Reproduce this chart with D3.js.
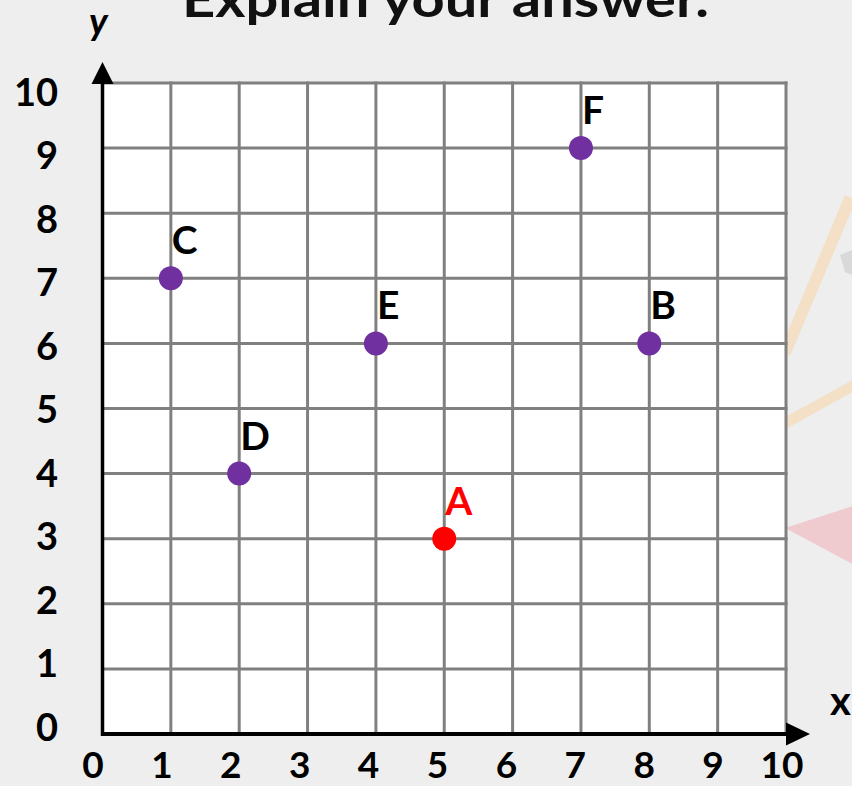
<!DOCTYPE html>
<html><head><meta charset="utf-8">
<script src="https://cdn.jsdelivr.net/npm/d3@7/dist/d3.min.js"></script>
<style>
html,body{margin:0;padding:0;background:#eeeeee;overflow:hidden;}
svg{display:block;}
text{font-family:Lato,"DejaVu Sans",sans-serif;font-weight:700;}
</style></head>
<body>
<script>
// ---- data ----
const title = "Explain your answer.";
const xTickValues = [0,1,2,3,4,5,6,7,8,9,10];
const yTickValues = [0,1,2,3,4,5,6,7,8,9,10];
const pointNames = ["A","B","C","D","E","F"];
const pointX = [5,8,1,2,4,7];
const pointY = [3,6,7,4,6,9];
const highlightName = "A";

// ---- layout ----
const W = 852, H = 786;
const svg = d3.select("body").append("svg").attr("width", W).attr("height", H);

// background decoration
const deco = svg.append("g");
deco.append("rect").attr("width", W).attr("height", H).attr("fill", "#eeeeee");
deco.append("path").attr("d", "M780,350 L845,195 L856,200 L790,356 Z").attr("fill", "#f3e0c6");
deco.append("path").attr("d", "M780,420 L856,378 L856,390 L784,430 Z").attr("fill", "#f3e0c6");
deco.append("path").attr("d", "M785,528 L856,505 L856,566 Z").attr("fill", "#efcbcf");
deco.append("path").attr("d", "M840,255 L852,250 L852,275 L845,272 Z").attr("fill", "#d9d9dc");

const x = d3.scaleLinear().domain([0,10]).range([102.5, 786]);
const y = d3.scaleLinear().domain([0,10]).range([734, 83]);
const xLabelPos = d3.scaleLinear().domain([0,10]).range([93, 782]);
const yLabelPos = d3.scaleLinear().domain([0,10]).range([727, 92]);

// plot area
svg.append("rect").attr("x", x(0)).attr("y", y(10))
  .attr("width", x(10)-x(0)).attr("height", y(0)-y(10)).attr("fill", "#ffffff");

// grid
const grid = svg.append("g").attr("stroke", "#808080").attr("stroke-width", 3);
grid.selectAll("line.v").data(xTickValues.filter(d => d > 0)).join("line")
  .attr("class","v").attr("x1", d => x(d)).attr("x2", d => x(d))
  .attr("y1", y(10) - 1.5).attr("y2", y(0));
grid.selectAll("line.h").data(yTickValues.filter(d => d > 0)).join("line")
  .attr("class","h").attr("y1", d => y(d)).attr("y2", d => y(d))
  .attr("x1", x(0)).attr("x2", x(10) + 1.5);

// axes
const axes = svg.append("g");
axes.append("line").attr("x1", x(0)).attr("x2", x(10)).attr("y1", y(0)).attr("y2", y(0))
  .attr("stroke", "#000").attr("stroke-width", 4);
axes.append("line").attr("x1", x(0)).attr("x2", x(0)).attr("y1", y(0) + 2).attr("y2", y(10))
  .attr("stroke", "#000").attr("stroke-width", 3.5);
axes.append("path")
  .attr("d", `M${x(0)-11},${y(10)+1} L${x(0)+11},${y(10)+1} L${x(0)},${y(10)-21} Z`)
  .attr("fill", "#000");
axes.append("path")
  .attr("d", `M${x(10)},${y(0)-11.5} L${x(10)},${y(0)+11.5} L${x(10)+24},${y(0)} Z`)
  .attr("fill", "#000");

// tick labels
svg.append("g").selectAll("text").data(xTickValues).join("text")
  .attr("x", d => xLabelPos(d)).attr("y", 778)
  .attr("text-anchor", "middle").attr("font-size", 37).attr("fill", "#000")
  .text(d => d);
svg.append("g").selectAll("text").data(yTickValues).join("text")
  .attr("x", 58).attr("y", d => yLabelPos(d))
  .attr("dy", "0.36em")
  .attr("text-anchor", "end").attr("font-size", 38).attr("fill", "#000")
  .text(d => d);

// axis names
svg.append("text").attr("x", 89).attr("y", 35).attr("font-size", 38)
  .attr("font-style", "italic").attr("fill", "#000").text("y");
svg.append("text").attr("x", 830).attr("y", 715).attr("font-size", 40)
  .attr("fill", "#000").text("x");

// title (cut off at the top, as in the reference)
svg.append("text").attr("x", 182).attr("y", 17).attr("font-size", 50)
  .attr("fill", "#111").attr("textLength", 527).attr("lengthAdjust", "spacingAndGlyphs")
  .text(title);

// points
const pts = pointNames.map((n, i) => ({name: n, x: pointX[i], y: pointY[i]}));
const pg = svg.append("g");
pg.selectAll("circle").data(pts).join("circle")
  .attr("cx", d => x(d.x)).attr("cy", d => y(d.y)).attr("r", 12)
  .attr("fill", d => d.name === highlightName ? "#ff0000" : "#7030a0");
pg.selectAll("text").data(pts).join("text")
  .attr("x", d => x(d.x) + 1).attr("y", d => y(d.y) - 24)
  .attr("font-size", 39)
  .attr("fill", d => d.name === highlightName ? "#ff0000" : "#000")
  .text(d => d.name);
</script>
</body></html>
